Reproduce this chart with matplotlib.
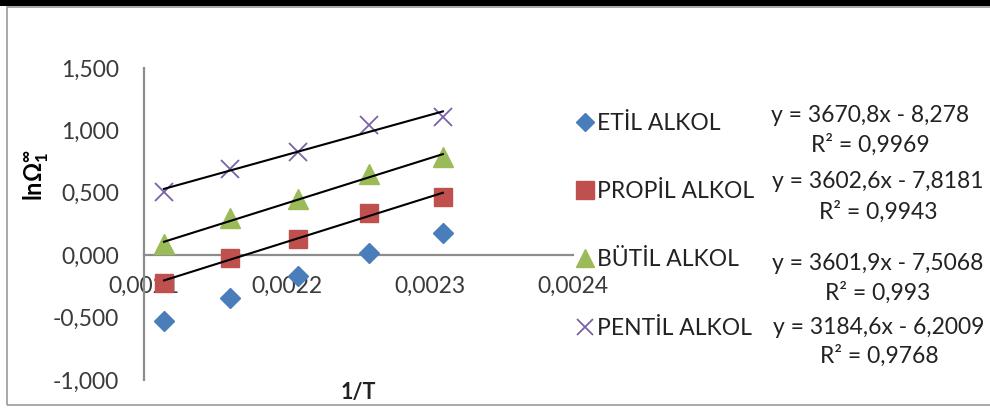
"""lnOmega vs 1/T for the four alcohols, with linear fits."""

import matplotlib

matplotlib.use("Agg")
import matplotlib.pyplot as plt
import numpy as np
from matplotlib.patches import Rectangle

plt.rcParams["font.family"] = ["Lato", "DejaVu Sans"]
plt.rcParams["mathtext.fontset"] = "custom"
plt.rcParams["mathtext.rm"] = "Lato"
plt.rcParams["mathtext.bf"] = "Lato:bold"

# 1/T values
inv_t = [0.002114, 0.002160, 0.002208, 0.002257, 0.002309]

series_names = ["ETİL ALKOL", "PROPİL ALKOL", "BÜTİL ALKOL", "PENTİL ALKOL"]
etil = [-0.53, -0.34, -0.17, 0.02, 0.18]
propil = [-0.22, -0.02, 0.13, 0.34, 0.47]
butil = [0.09, 0.30, 0.45, 0.65, 0.79]
pentil = [0.51, 0.69, 0.83, 1.04, 1.11]

# trendline equations as printed next to the legend
slopes = [3670.8, 3602.6, 3601.9, 3184.6]
intercepts = [-8.278, -7.8181, -7.5068, -6.2009]
r_squared = ["0,9969", "0,9943", "0,993", "0,9768"]
show_trend = [False, True, True, True]

y_ticks = [-1.0, -0.5, 0.0, 0.5, 1.0, 1.5]
x_ticks = [0.0021, 0.0022, 0.0023, 0.0024]

W, H = 990, 408


def fx(px):
    return px / W


def fy(py):
    return 1 - py / H


def comma(v, nd):
    return f"{v:.{nd}f}".replace(".", ",")


fig = plt.figure(figsize=(W / 100, H / 100), dpi=100)
fig.patches.append(Rectangle((fx(7), fy(405)), 1.0, fy(7) - fy(405), transform=fig.transFigure,
                             fill=False, edgecolor="#9a9a9a", linewidth=1.2))
fig.patches.append(Rectangle((0, fy(6)), 1.0, 6 / H, transform=fig.transFigure,
                             facecolor="black", edgecolor="none"))

ax = fig.add_axes([fx(144), fy(380), fx(573) - fx(144), fy(68) - fy(380)])

styles = [
    dict(marker="D", color="#4A7EBB", ms=10),
    dict(marker="s", color="#C0504D", ms=13.5),
    dict(marker="^", color="#9BBB59", ms=14),
    dict(marker="x", color="#7B62A8", ms=12.5, mew=1.3),
]
values = [etil, propil, butil, pentil]
handles = []
for name, ys, st, m, b, trend in zip(series_names, values, styles, slopes, intercepts, show_trend):
    (h,) = ax.plot(inv_t, ys, linestyle="none", label=name, zorder=3, **st)
    handles.append(h)
    if trend:
        xs = np.array([inv_t[0], inv_t[-1]])
        ax.plot(xs, m * xs + b, color="black", linewidth=1.5, zorder=4)

ax.set_xlim(0.0021, 0.0024)
ax.set_ylim(-1.0, 1.5)
ax.set_xticks(x_ticks)
ax.set_yticks(y_ticks)
ax.set_xticklabels([comma(v, 4) for v in x_ticks])
ax.set_yticklabels([comma(v, 3) for v in y_ticks])
ax.tick_params(axis="both", length=0, labelsize=16.5, labelcolor="#3a3a3a")
ax.tick_params(axis="x", pad=15)
ax.tick_params(axis="y", pad=18)

for side in ["top", "right"]:
    ax.spines[side].set_visible(False)
ax.spines["bottom"].set_position(("data", 0))
for side in ["left", "bottom"]:
    ax.spines[side].set_color("#8c8c8c")
    ax.spines[side].set_linewidth(1.6)
ax.patch.set_alpha(0)

ax.set_ylabel(r"$\mathbf{ln\Omega_1^{\infty}}$", fontsize=17, va="center")
ax.yaxis.set_label_coords((36 - 144) / 429, (380 - 175) / 312)
ax.set_xlabel("1/T", fontsize=15.5, fontweight="bold", color="#222222", va="center")
ax.xaxis.set_label_coords((358 - 144) / 429, (380 - 393) / 312)

fig.legend(handles=handles, loc="upper left", bbox_to_anchor=(fx(578), fy(113)),
           frameon=False, fontsize=16.5, handlelength=0.6, handletextpad=0.25,
           labelspacing=2.06, borderpad=0, borderaxespad=0, labelcolor="#222222",
           markerscale=0.95)

eq_rows = [(115, 145, 870), (182, 212, 878), (263, 293, 878), (327, 356, 879)]
for (y1, y2, xc), m, b, r2 in zip(eq_rows, slopes, intercepts, r_squared):
    nd = len(str(abs(b)).split(".")[1])
    eq = f"y = {comma(m, 1)}x - {comma(abs(b), nd)}"
    fig.text(fx(xc), fy(y1), eq, ha="center", va="center", fontsize=16.5, color="#222222")
    fig.text(fx(xc), fy(y2), f"R² = {r2}", ha="center", va="center", fontsize=16.5, color="#222222")

fig.savefig("out.png", dpi=100)
